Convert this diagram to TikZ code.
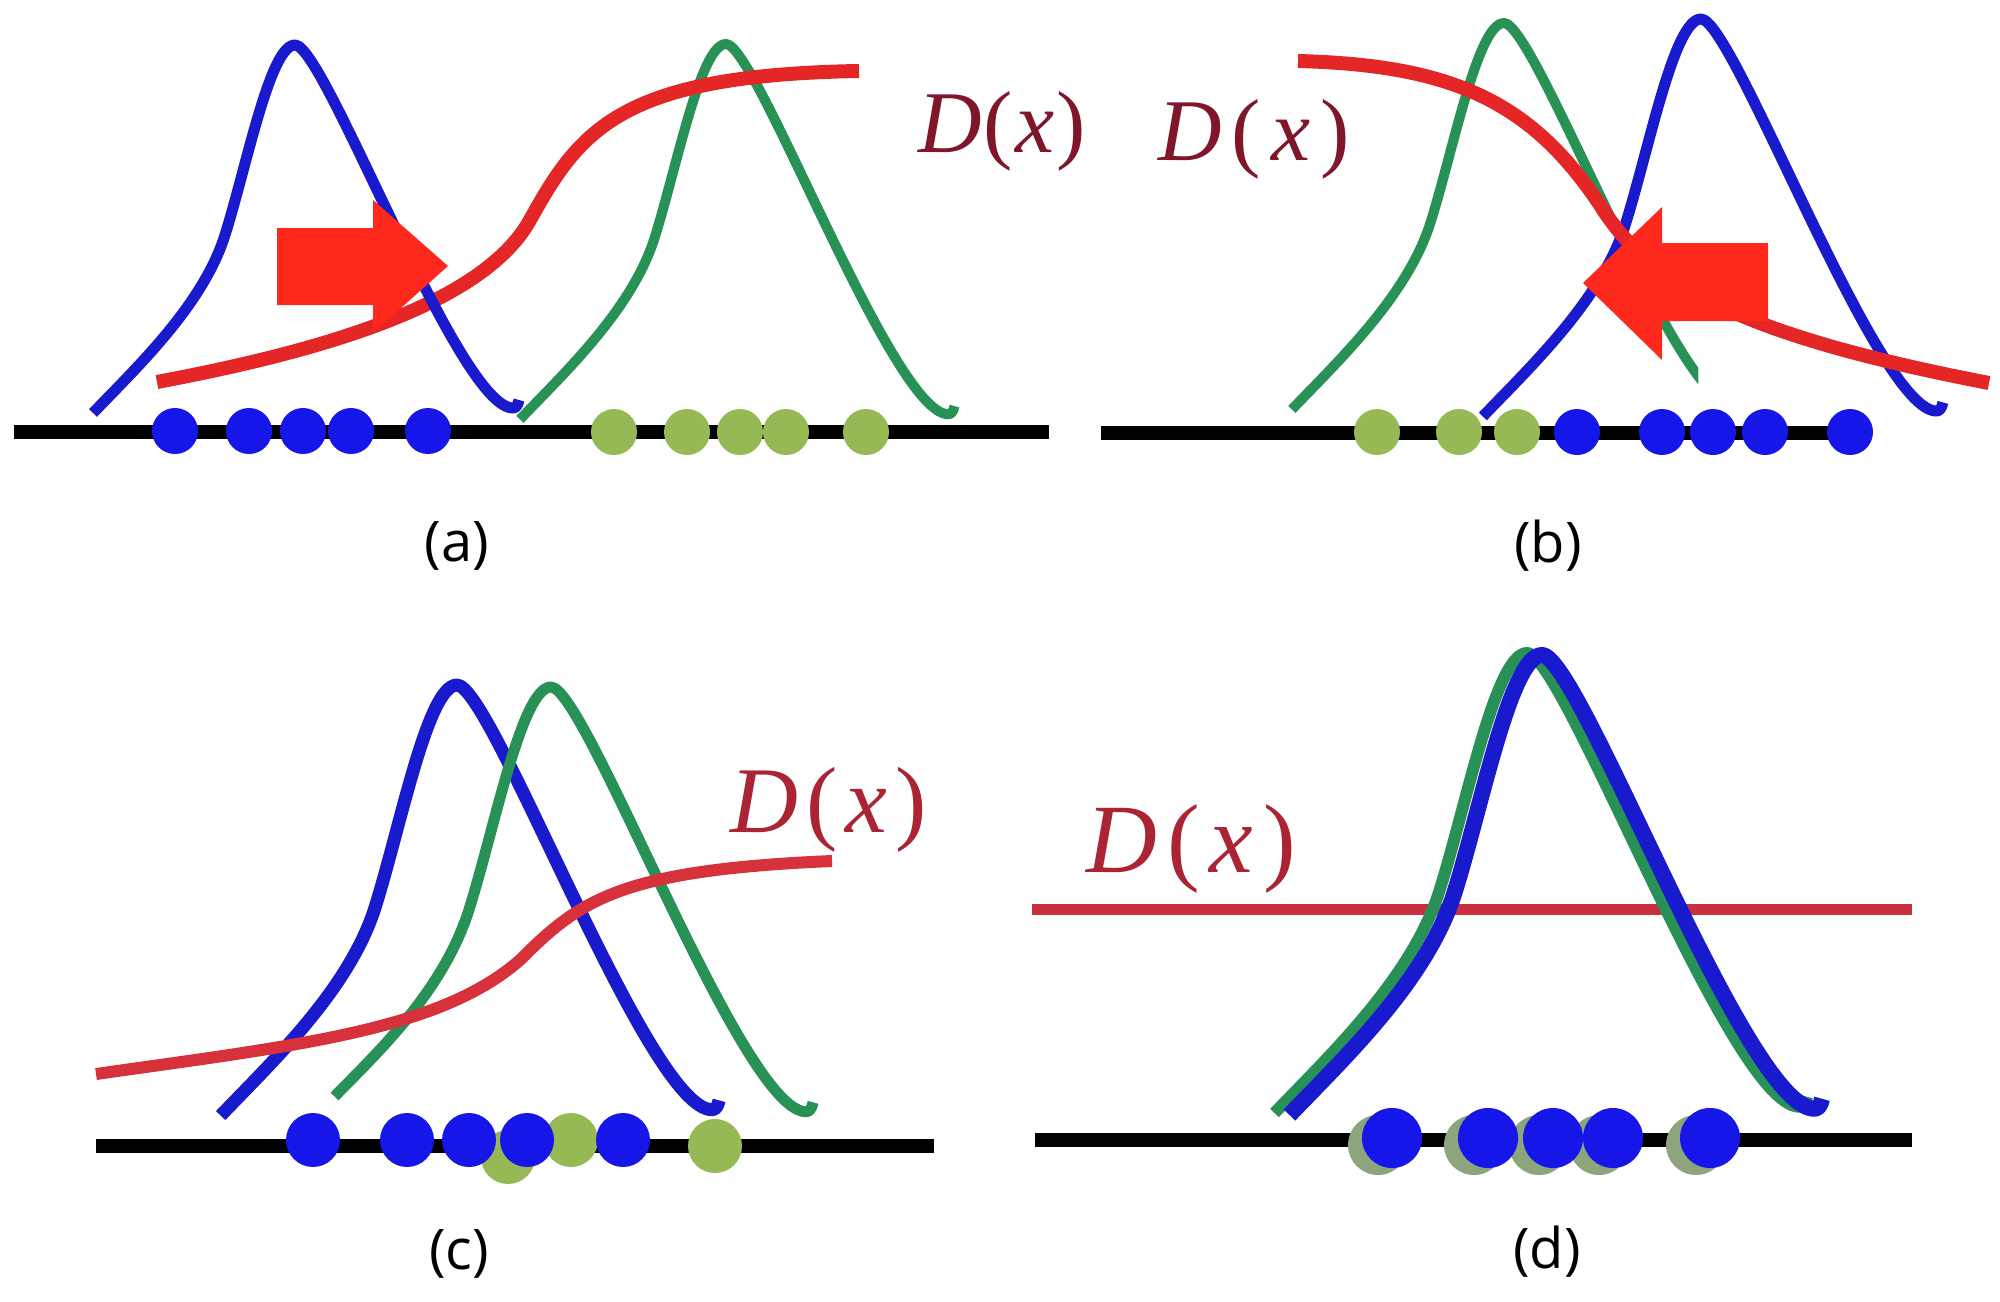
\documentclass[tikz,border=0pt]{standalone}
\usepackage{fontspec}
\newfontfamily\lblfont{Open Sans}
\newfontfamily\dfont{Liberation Serif}
\newcommand\Dx[1]{{\dfont\itshape D}\hspace{#1}{\dfont(}\hspace{#1}{\dfont\itshape x}\hspace{#1}{\dfont)}}
\definecolor{cblue}{RGB}{25,25,205}
\definecolor{cdot}{RGB}{22,22,232}
\definecolor{cgreen}{RGB}{40,145,85}
\definecolor{gdotc}{RGB}{150,185,85}
\definecolor{gdotd}{RGB}{140,165,125}
\definecolor{cred}{RGB}{228,38,38}
\definecolor{credc}{RGB}{215,50,60}
\definecolor{credd}{RGB}{200,48,62}
\definecolor{carrow}{RGB}{255,40,28}
\definecolor{dlab}{RGB}{128,22,42}
\definecolor{dlabb}{RGB}{170,36,52}
\tikzset{
 axisline/.style={line width=7pt,black},
 bluecurve/.style={color=cblue,line width=5.5pt},
 greencurve/.style={color=cgreen,line width=5pt},
 dcurve/.style={color=cred,line width=7pt},
 bigarrow/.style={fill=carrow},
 bdot/.style={fill=cdot},
 gdot/.style={fill=gdotc},
 dlabel/.style={inner sep=0pt,anchor=base west,text=dlab},
 plabel/.style={inner sep=0pt,font=\lblfont\fontsize{28}{30}\selectfont},
 bell/.pic={\draw (-202,368) .. controls (-158,322) and (-92,260) .. (-70,190)
     .. controls (-48,120) and (-25,0) .. (0,0)
     .. controls (30,0) and (163,363) .. (218,363) .. controls (221,363) and (223,360) .. (224,355);},
 bellL/.pic={\draw (-185,350) .. controls (-148,312) and (-92,260) .. (-70,190)
     .. controls (-48,120) and (-25,0) .. (0,0)
     .. controls (30,0) and (163,363) .. (218,363) .. controls (221,363) and (223,360) .. (224,355);},
 bellR/.pic={\begin{scope}\clip (-260,-40) rectangle (185,420);
   \draw (-202,368) .. controls (-158,322) and (-92,260) .. (-70,190)
     .. controls (-48,120) and (-25,0) .. (0,0)
     .. controls (30,0) and (163,363) .. (218,363);\end{scope}},
}
\begin{document}
\begin{tikzpicture}[x=0.5pt,y=-0.5pt,line join=round]
\useasboundingbox[fill=white] (0,0) rectangle (2000,1301);

% ---------------- (a)
\draw[axisline] (14,432) -- (1049,432);
\pic[greencurve,scale=1.02] at (726,44) {bell};
\draw[dcurve] (157,382) .. controls (300,355) and (480,310) .. (530,220) .. controls (580,130) and (620,75) .. (859,71);
\pic[bluecurve] at (295,45) {bell};
\fill[bigarrow] (277,228) -- (373,228) -- (373,200) -- (448,266) -- (373,333) -- (373,305) -- (277,305) -- cycle;
\foreach \x in {614,687,740,786,866} \fill[gdot] (\x,432) circle[radius=23];
\foreach \x in {175,249,303,351,428} \fill[bdot] (\x,431) circle[radius=23];
\node[dlabel,font=\fontsize{44}{44}\selectfont] (Da) at (918,152) {\Dx{1pt}};
\node[plabel] (la) at (457,546) {(a)};

% ---------------- (b)
\draw[axisline] (1101,433) -- (1845,433);
\pic[greencurve,scale=1.05] at (1504,23) {bellR};
\pic[bluecurve,scale=1.08] at (1701,19) {bell};
\draw[dcurve] (1298,61) .. controls (1450,65) and (1530,100) .. (1600,205) .. controls (1650,285) and (1740,335) .. (1989,383);
\fill[bigarrow] (1768,243) -- (1662,243) -- (1662,207) -- (1583,283) -- (1662,360) -- (1662,321) -- (1768,321) -- cycle;
\foreach \x in {1377,1459,1517} \fill[gdot] (\x,432) circle[radius=23];
\foreach \x in {1577,1662,1713,1765,1850} \fill[bdot] (\x,432) circle[radius=23];
\node[dlabel,font=\fontsize{44}{44}\selectfont] (Db) at (1158,160) {\Dx{5pt}};
\node[plabel] (lb) at (1548,546) {(b)};

% ---------------- (c)
\draw[axisline] (96,1146) -- (934,1146);
\pic[bluecurve,line width=6.5pt,scale=1.17] at (457,685) {bell};
\pic[greencurve,line width=5.5pt,scale=1.17] at (551,687) {bellL};
\draw[dcurve,color=credc,line width=6pt] (96,1074) .. controls (300,1045) and (440,1030) .. (520,960) .. controls (580,900) and (620,870) .. (832,861);
\fill[gdot] (508,1157) circle[radius=27];
\fill[gdot] (571,1140) circle[radius=27];
\fill[gdot] (715,1146) circle[radius=27];
\foreach \x in {313,407,469,527,623} \fill[bdot] (\x,1140) circle[radius=27];
\node[dlabel,text=dlabb,font=\fontsize{47}{47}\selectfont] (Dc) at (730,832) {\Dx{4pt}};
\node[plabel] (lc) at (459,1254) {(c)};

% ---------------- (d)
\draw[axisline] (1035,1140) -- (1912,1140);
\draw[dcurve,color=credd,line width=5.5pt] (1032,909) -- (1912,909);
\pic[greencurve,line width=6pt,scale=1.25] at (1527,653) {bell};
\pic[bluecurve,line width=8pt,scale=1.25] at (1542,655) {bell};
\foreach \x in {1392,1488,1553,1613,1710} \fill[gdot,fill=gdotd] (\x-14,1145) circle[radius=30];
\foreach \x in {1392,1488,1553,1613,1710} \fill[bdot] (\x,1138) circle[radius=30];
\node[dlabel,text=dlabb,font=\fontsize{49}{49}\selectfont] (Dd) at (1086,872) {\Dx{5pt}};
\node[plabel] (ld) at (1547,1252) {(d)};
\end{tikzpicture}
\end{document}
